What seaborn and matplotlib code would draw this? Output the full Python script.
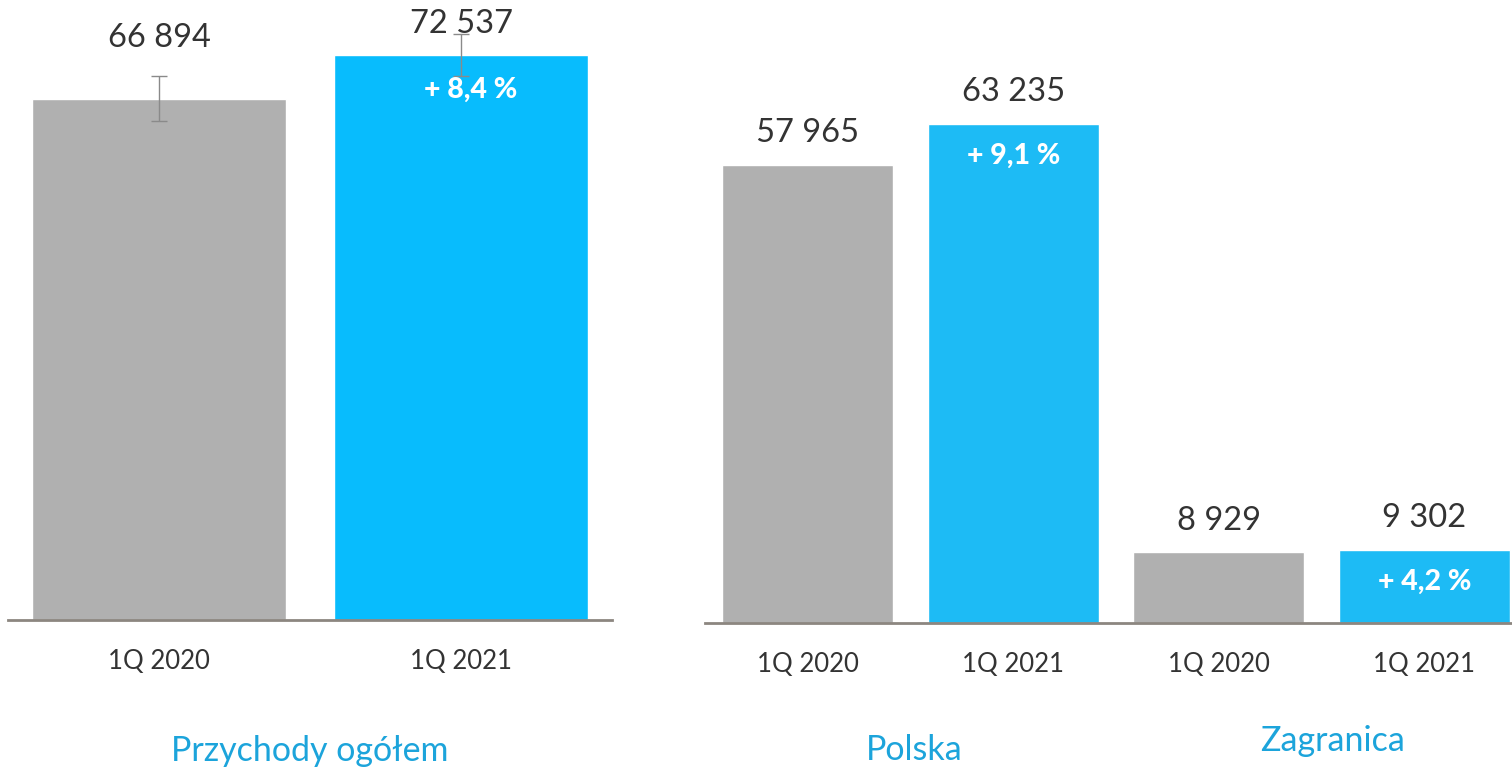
import matplotlib
matplotlib.use('Agg')
import matplotlib.pyplot as plt
import seaborn as sns
import pandas as pd

# data
total_periods = ['1Q 2020', '1Q 2021']
total_values = [66894, 72537]
total_errors = [2890, 2700]
total_growth = ['+ 8,4 %']

split_periods = ['1Q 2020', '1Q 2021', '1Q 2020 ', '1Q 2021 ']
split_values = [57965, 63235, 8929, 9302]
split_growth = ['+ 9,1 %', '+ 4,2 %']

group_titles = ['Przychody ogółem', 'Polska', 'Zagranica']

GRAY = '#B0B0B0'
BLUE_L = '#08BCFD'
BLUE_R = '#1DBBF5'
TITLE_BLUE = '#1CA4DB'
TEXT = '#333333'
LINE = '#8C8680'


def fmt(v):
    return f'{v:,}'.replace(',', ' ')


def style_axis(ax, ylim, xlim):
    ax.set_ylim(*ylim)
    ax.set_xlim(*xlim)
    for side in ['left', 'right', 'top']:
        ax.spines[side].set_visible(False)
    ax.spines['bottom'].set_color(LINE)
    ax.spines['bottom'].set_linewidth(2.0)
    ax.set_yticks([])
    ax.set_xlabel('')
    ax.set_ylabel('')
    ax.tick_params(axis='x', length=0, pad=21, labelsize=18.5, labelcolor=TEXT)


sns.set_style('white')
plt.rcParams['font.family'] = ['Lato', 'DejaVu Sans']

fig = plt.figure(figsize=(15.12, 7.67), dpi=100)

# left panel: total revenue
ax1 = fig.add_axes([8 / 1512, 147 / 767, 604 / 1512, 620 / 767])
df1 = pd.DataFrame({'period': total_periods, 'value': total_values})
sns.barplot(data=df1, x='period', y='value', hue='period',
            palette=[GRAY, BLUE_L], width=0.838, legend=False, ax=ax1,
            saturation=1)
ax1.errorbar(range(len(total_values)), total_values, yerr=total_errors,
             fmt='none', ecolor='#8A8A8A', elinewidth=1.0, capsize=6,
             capthick=1.0, zorder=3)
style_axis(ax1, (0, 79600), (-0.5, 1.5))

label_offsets = [44, 22]
for i, v in enumerate(total_values):
    ax1.annotate(fmt(v), (i, v), xytext=(0, label_offsets[i]),
                 textcoords='offset points', ha='center', va='center',
                 fontsize=23.5, color=TEXT, zorder=4)
ax1.annotate(total_growth[0], (1, total_values[1]), xytext=(7, -25),
             textcoords='offset points', ha='center', va='center',
             fontsize=20.5, fontweight='black', color='white', zorder=4)
ax1.text(0.5, -0.212, group_titles[0], transform=ax1.transAxes,
         ha='center', va='center', fontsize=24.5, color=TITLE_BLUE)

# right panel: Poland / abroad
ax2 = fig.add_axes([705 / 1512, 144 / 767, 822 / 1512, 623 / 767])
df2 = pd.DataFrame({'period': split_periods, 'value': split_values})
sns.barplot(data=df2, x='period', y='value', hue='period',
            palette=[GRAY, BLUE_R, GRAY, BLUE_R], width=0.83, legend=False,
            ax=ax2, saturation=1)
style_axis(ax2, (0, 78870), (-0.5, 3.5))
ax2.set_xticks(range(4))
ax2.set_xticklabels([p.strip() for p in split_periods])

for i, v in enumerate(split_values):
    ax2.annotate(fmt(v), (i, v), xytext=(0, 23),
                 textcoords='offset points', ha='center', va='center',
                 fontsize=23.5, color=TEXT)
for i, g in zip([1, 3], split_growth):
    ax2.annotate(g, (i, split_values[i]), xytext=(0, -23),
                 textcoords='offset points', ha='center', va='center',
                 fontsize=20.5, fontweight='black', color='white')

fig.text(914 / 1512, 1 - 750 / 767, group_titles[1], ha='center', va='center',
         fontsize=24.5, color=TITLE_BLUE)
fig.text(1333 / 1512, 1 - 741 / 767, group_titles[2], ha='center', va='center',
         fontsize=24.5, color=TITLE_BLUE)

fig.savefig('out.png', dpi=100)
plt.close(fig)
